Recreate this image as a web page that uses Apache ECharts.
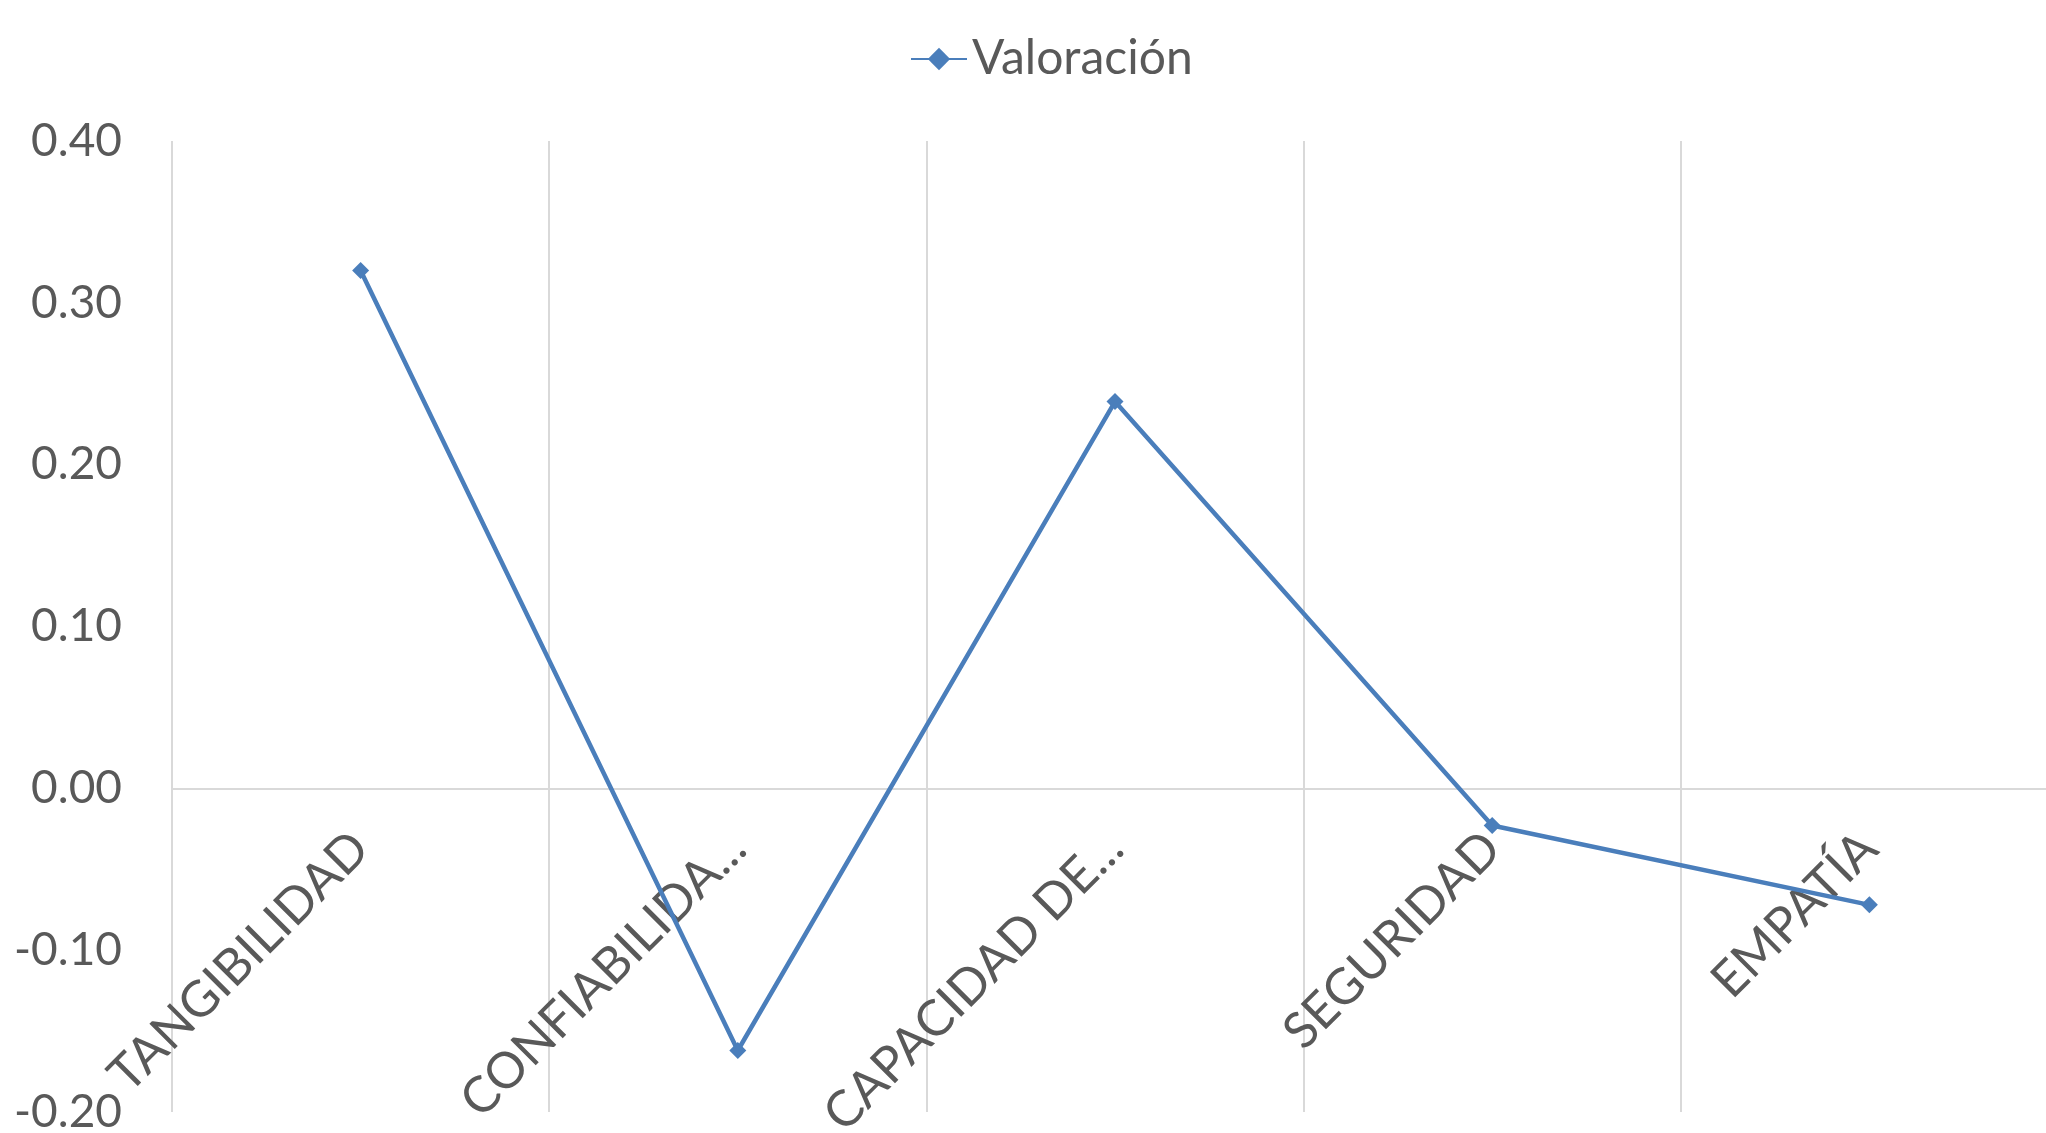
<!DOCTYPE html>
<html>
<head>
<meta charset="utf-8">
<script src="https://cdn.jsdelivr.net/npm/echarts@6/dist/echarts.min.js"></script>
<style>
    html, body { margin: 0; padding: 0; background: #fff; }
    #chart { width: 2046px; height: 1133px; }
</style>
</head>
<body>
<div id="chart"></div>
<script>
// categories as displayed (Excel truncated the long ones)
var categories = ['TANGIBILIDAD', 'CONFIABILIDA...', 'CAPACIDAD DE...', 'SEGURIDAD', 'EMPATÍA'];
var valoracion = [0.32, -0.162, 0.239, -0.023, -0.072];
var yTicks = { min: -0.2, max: 0.4, step: 0.1 };

var textColor = '#595959';
var lineColor = '#4A7EBB';
var fontName = 'Lato, "Open Sans", sans-serif';

var gridTop = 141;
var gridHeight = 971;
// category axis sits on the zero line, labels hang below it
var zeroOffset = -gridHeight * (0 - yTicks.min) / (yTicks.max - yTicks.min);

var chart = echarts.init(document.getElementById('chart'));

var option = {
    animation: false,
    textStyle: { fontFamily: fontName },
    legend: {
        top: 30,
        left: 905,
        itemWidth: 56,
        itemHeight: 28,
        itemGap: 6,
        textStyle: { fontSize: 48, color: textColor, fontFamily: fontName },
        data: ['Valoración']
    },
    grid: {
        left: 172,
        top: gridTop,
        width: 1886,
        height: gridHeight,
        containLabel: false,
        outerBoundsMode: 'none'
    },
    xAxis: {
        type: 'category',
        data: categories,
        boundaryGap: true,
        position: 'bottom',
        offset: zeroOffset,
        axisLine: { onZero: false, lineStyle: { color: '#d9d9d9', width: 2 } },
        axisTick: { show: false },
        splitLine: { show: true, lineStyle: { color: '#d9d9d9', width: 2 } },
        axisLabel: {
            rotate: 45,
            margin: 52,
            interval: 0,
            fontSize: 50,
            color: textColor,
            fontFamily: fontName
        }
    },
    yAxis: {
        type: 'value',
        min: yTicks.min,
        max: yTicks.max,
        interval: yTicks.step,
        axisLine: { show: false },
        axisTick: { show: false },
        splitLine: { show: false },
        axisLabel: {
            margin: 50,
            fontSize: 46,
            color: textColor,
            fontFamily: fontName,
            formatter: function (v) { return v.toFixed(2); }
        }
    },
    series: [{
        name: 'Valoración',
        type: 'line',
        data: valoracion,
        symbol: 'diamond',
        symbolSize: 17,
        lineStyle: { color: lineColor, width: 4.5 },
        itemStyle: { color: lineColor }
    }]
};

chart.setOption(option);
</script>
</body>
</html>
